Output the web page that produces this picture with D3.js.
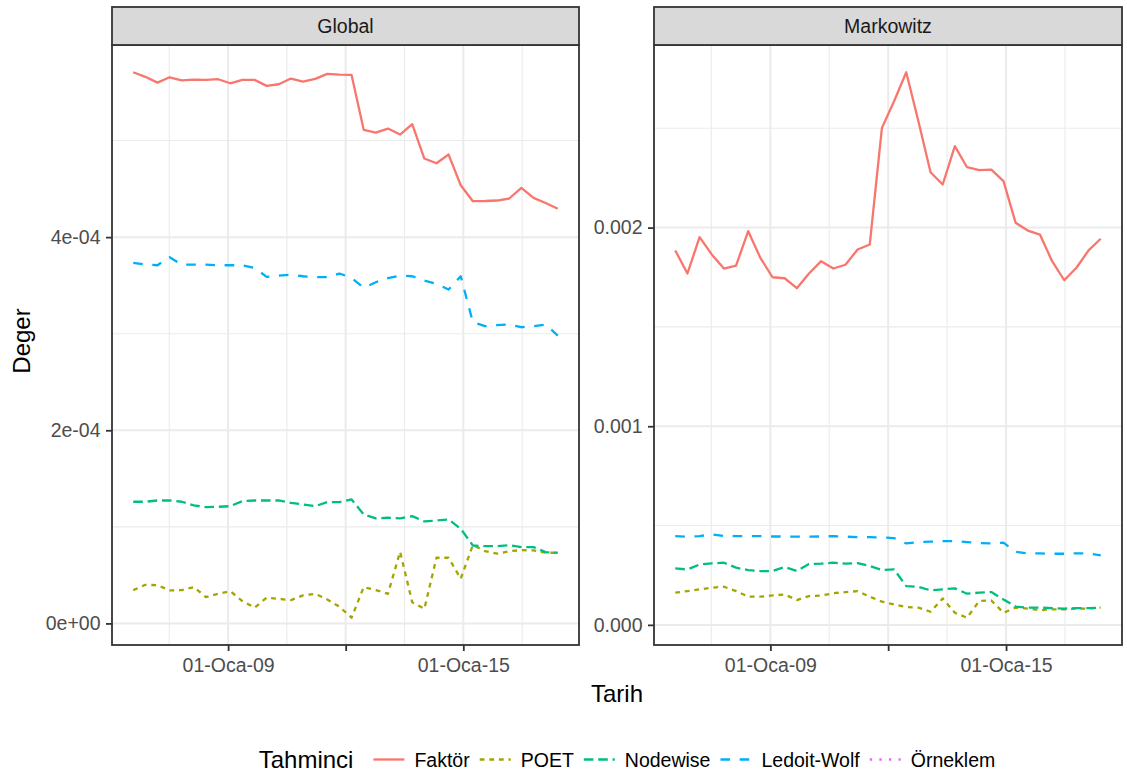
<!DOCTYPE html>
<html>
<head>
<meta charset="utf-8">
<script src="https://cdn.jsdelivr.net/npm/d3@7"></script>
<style>
  body { margin: 0; background: #fff; }
  text { font-family: "Liberation Sans", Arial, Helvetica, sans-serif; }
</style>
</head>
<body>
<svg id="chart" width="1127" height="781"></svg>
<script>
// data
const dates = ["2006-08-01","2006-11-22","2007-03-15","2007-07-06","2007-10-27","2008-02-17",
  "2008-06-09","2008-09-30","2009-01-21","2009-05-14","2009-09-04","2009-12-26",
  "2010-04-18","2010-08-09","2010-11-30","2011-03-23","2011-07-14","2011-11-04",
  "2012-02-25","2012-06-17","2012-10-08","2013-01-29","2013-05-22","2013-09-12",
  "2014-01-03","2014-04-26","2014-08-17","2014-12-08","2015-03-31","2015-07-22",
  "2015-11-12","2016-03-04","2016-06-25","2016-10-16","2017-02-06","2017-05-30"];

const estimators = ["Faktör", "POET", "Nodewise", "Ledoit-Wolf", "Örneklem"];
const facets = ["Global", "Markowitz"];

const globalFaktor = [0.0005707,0.000566,0.00056,0.0005655,0.0005624,0.0005631,0.0005628,0.0005635,0.0005593,
  0.0005628,0.0005628,0.0005566,0.0005583,0.0005642,0.0005611,0.0005639,0.000569,0.0005683,0.000568,
  0.0005111,0.0005083,0.0005124,0.0005062,0.0005169,0.0004814,0.0004765,0.0004855,0.0004537,
  0.0004372,0.0004374,0.0004379,0.00044,0.000451,0.0004407,0.0004353,0.0004293];
const globalPoet = [0.0000345,0.00004,0.0000396,0.0000342,0.0000345,0.0000376,0.0000272,0.0000307,0.0000334,
  0.0000231,0.0000163,0.0000266,0.0000255,0.0000241,0.000029,0.0000307,0.0000248,0.0000173,0.0000059,
  0.0000376,0.0000345,0.0000307,0.0000742,0.000022,0.0000152,0.000068,0.000068,0.0000463,
  0.0000811,0.0000748,0.0000722,0.0000748,0.0000759,0.0000756,0.0000732,0.0000732];
const globalNodewise = [0.000126,0.000126,0.0001273,0.0001273,0.000126,0.0001222,0.0001204,0.0001208,0.0001214,
  0.0001266,0.0001273,0.0001273,0.0001273,0.0001249,0.0001232,0.0001214,0.0001256,0.0001256,0.0001284,
  0.0001128,0.0001087,0.0001094,0.0001087,0.0001111,0.0001056,0.0001066,0.0001077,0.000098,
  0.0000807,0.00008,0.00008,0.0000811,0.000079,0.000079,0.0000738,0.0000732];
const globalLedoit = [0.0003734,0.0003716,0.0003709,0.0003792,0.0003716,0.0003716,0.0003716,0.0003709,0.0003709,
  0.0003709,0.0003682,0.0003589,0.0003602,0.000361,0.0003595,0.0003585,0.0003585,0.0003623,0.0003579,
  0.0003475,0.0003533,0.0003575,0.0003602,0.0003595,0.0003551,0.0003517,0.0003458,0.0003595,
  0.0003119,0.0003078,0.0003088,0.0003095,0.0003067,0.0003078,0.0003095,0.0002981];
const globalOrneklem = [];

const markowitzFaktor = [0.001885,0.001769,0.001952,0.001865,0.001794,0.001809,0.001982,0.001848,0.00175,
  0.001745,0.001695,0.001769,0.001831,0.001794,0.001813,0.00189,0.001915,0.002502,0.002636,
  0.002782,0.002535,0.002279,0.002217,0.00241,0.002304,0.002289,0.002292,0.002234,
  0.002024,0.001985,0.001965,0.001831,0.001735,0.001798,0.001885,0.001944];
const markowitzPoet = [0.000162,0.00017,0.000179,0.000187,0.000192,0.00017,0.000142,0.000142,0.000148,
  0.000153,0.000125,0.000145,0.000148,0.000159,0.000165,0.00017,0.000142,0.000117,0.000103,
  0.00009,0.000087,0.000066,0.000133,0.000061,0.000036,0.00012,0.000123,0.000061,
  0.000087,0.000082,0.000074,0.000078,0.000078,0.000082,0.000082,0.000087];
const markowitzNodewise = [0.000284,0.000279,0.000304,0.00031,0.000313,0.000288,0.000276,0.000271,0.000271,
  0.000291,0.000271,0.000306,0.000308,0.000313,0.000308,0.000311,0.000296,0.000276,0.000279,
  0.000195,0.000192,0.000174,0.000179,0.000184,0.000157,0.000162,0.000165,0.000128,
  0.000092,0.000087,0.000087,0.000084,0.000082,0.000084,0.000084,0.000087];
const markowitzLedoit = [0.000447,0.000444,0.000447,0.000455,0.000447,0.000447,0.000447,0.000447,0.000445,
  0.000445,0.000444,0.000444,0.000445,0.000447,0.000444,0.000442,0.000442,0.00044,0.000437,
  0.00041,0.000417,0.000419,0.000422,0.000422,0.000417,0.000412,0.00041,0.000414,
  0.000368,0.00036,0.00036,0.000358,0.000358,0.00036,0.00036,0.00035];
const markowitzOrneklem = [];

const xTickDates = ["2009-01-01", "2012-01-01", "2015-01-01"];
const xTickLabels = ["01-Oca-09", "", "01-Oca-15"];
const xMinorDates = ["2007-07-02", "2010-07-02", "2013-07-02", "2016-07-02"];

const globalTicks = [0, 0.0002, 0.0004];
const globalTickLabels = ["0e+00", "2e-04", "4e-04"];
const globalMinor = [0.0001, 0.0003, 0.0005];
const markowitzTicks = [0, 0.001, 0.002];
const markowitzTickLabels = ["0.000", "0.001", "0.002"];
const markowitzMinor = [0.0005, 0.0015, 0.0025];

// styling
const colors = ["#F8766D", "#A3A500", "#00BF7D", "#00B0F6", "#E76BF3"];
const dashes = ["none", "4.8,4.8", "9.6,4.8", "9.6,9.6", "2.4,7.2"];
const lineW = 2.3;

const stripTop = 7, panelTop = 45, panelBottom = 645;
const tickFont = 19.5, titleFont = 24;

const parseDate = d3.utcParse("%Y-%m-%d");
const allDates = dates.map(parseDate);

const panels = [
  { name: facets[0], left: 112, right: 579,
    series: [globalFaktor, globalPoet, globalNodewise, globalLedoit, globalOrneklem],
    ticks: globalTicks, tickLabels: globalTickLabels, minor: globalMinor },
  { name: facets[1], left: 654, right: 1122,
    series: [markowitzFaktor, markowitzPoet, markowitzNodewise, markowitzLedoit, markowitzOrneklem],
    ticks: markowitzTicks, tickLabels: markowitzTickLabels, minor: markowitzMinor }
];

const svg = d3.select("#chart");
svg.append("rect").attr("width", 1127).attr("height", 781).attr("fill", "#fff");

function expand(ext) {
  const pad = (ext[1] - ext[0]) * 0.05;
  return [ext[0] - pad, ext[1] + pad];
}

const xDomain = expand(d3.extent(allDates).map(d => +d)).map(d => new Date(d));

panels.forEach(p => {
  const g = svg.append("g");

  const x = d3.scaleUtc().domain(xDomain).range([p.left, p.right]);
  const allVals = p.series.flat();
  const y = d3.scaleLinear().domain(expand(d3.extent(allVals))).range([panelBottom, panelTop]);

  // grid
  const grid = g.append("g");
  grid.selectAll("line.xminor").data(xMinorDates.map(parseDate)).join("line")
    .attr("x1", d => x(d)).attr("x2", d => x(d))
    .attr("y1", panelTop).attr("y2", panelBottom)
    .attr("stroke", "#EBEBEB").attr("stroke-width", 1.1);
  grid.selectAll("line.yminor").data(p.minor).join("line")
    .attr("x1", p.left).attr("x2", p.right)
    .attr("y1", d => y(d)).attr("y2", d => y(d))
    .attr("stroke", "#EBEBEB").attr("stroke-width", 1.1);
  grid.selectAll("line.xmajor").data(xTickDates.map(parseDate)).join("line")
    .attr("x1", d => x(d)).attr("x2", d => x(d))
    .attr("y1", panelTop).attr("y2", panelBottom)
    .attr("stroke", "#EBEBEB").attr("stroke-width", 2);
  grid.selectAll("line.ymajor").data(p.ticks).join("line")
    .attr("x1", p.left).attr("x2", p.right)
    .attr("y1", d => y(d)).attr("y2", d => y(d))
    .attr("stroke", "#EBEBEB").attr("stroke-width", 2);

  // lines
  const line = d3.line()
    .x(d => x(d[0]))
    .y(d => y(d[1]));

  p.series.forEach((vals, i) => {
    if (!vals.length) return;
    g.append("path")
      .datum(vals.map((v, j) => [allDates[j], v]))
      .attr("d", line)
      .attr("fill", "none")
      .attr("stroke", colors[i])
      .attr("stroke-width", lineW)
      .attr("stroke-dasharray", dashes[i])
      .attr("stroke-linejoin", "round");
  });

  // border
  g.append("rect")
    .attr("x", p.left).attr("y", panelTop)
    .attr("width", p.right - p.left).attr("height", panelBottom - panelTop)
    .attr("fill", "none").attr("stroke", "#333333").attr("stroke-width", 1.8);

  // strip
  g.append("rect")
    .attr("x", p.left).attr("y", stripTop)
    .attr("width", p.right - p.left).attr("height", panelTop - stripTop)
    .attr("fill", "#D9D9D9").attr("stroke", "#333333").attr("stroke-width", 1.8);
  g.append("text")
    .attr("x", (p.left + p.right) / 2).attr("y", (stripTop + panelTop) / 2)
    .attr("dy", "0.36em")
    .attr("text-anchor", "middle")
    .attr("font-size", tickFont).attr("fill", "#1A1A1A")
    .text(p.name);

  // axes
  const xAxis = d3.axisBottom(x)
    .tickValues(xTickDates.map(parseDate))
    .tickFormat((d, i) => xTickLabels[i])
    .tickSize(6).tickSizeOuter(0).tickPadding(7);
  const xg = g.append("g").attr("transform", `translate(0,${panelBottom})`).call(xAxis);

  const yAxis = d3.axisLeft(y)
    .tickValues(p.ticks)
    .tickFormat((d, i) => p.tickLabels[i])
    .tickSize(6).tickSizeOuter(0).tickPadding(5.5);
  const yg = g.append("g").attr("transform", `translate(${p.left},0)`).call(yAxis);

  [xg, yg].forEach(a => {
    a.select(".domain").remove();
    a.selectAll(".tick line").attr("stroke", "#333333").attr("stroke-width", 1.8);
    a.selectAll(".tick text").attr("fill", "#4D4D4D").attr("font-size", tickFont)
      .attr("font-family", "Liberation Sans, Arial, sans-serif");
  });
});

// axis titles
svg.append("text")
  .attr("x", (panels[0].left + panels[1].right) / 2).attr("y", 702)
  .attr("text-anchor", "middle").attr("font-size", titleFont).attr("fill", "#000")
  .text("Tarih");
svg.append("text")
  .attr("transform", `translate(29.5,${(panelTop + panelBottom) / 2 - 4}) rotate(-90)`)
  .attr("text-anchor", "middle").attr("font-size", titleFont).attr("fill", "#000")
  .text("Deger");

// legend, laid out left to right then centred
const legend = svg.append("g");
const legendTitle = legend.append("text")
  .attr("x", 0).attr("y", 768)
  .attr("font-size", titleFont).attr("fill", "#000")
  .text("Tahminci");
let lx = legendTitle.node().getComputedTextLength() + 20;
estimators.forEach((name, i) => {
  legend.append("line")
    .attr("x1", lx).attr("x2", lx + 31)
    .attr("y1", 759.5).attr("y2", 759.5)
    .attr("stroke", colors[i]).attr("stroke-width", lineW)
    .attr("stroke-dasharray", dashes[i]);
  const t = legend.append("text")
    .attr("x", lx + 41).attr("y", 767)
    .attr("font-size", tickFont).attr("fill", "#000")
    .text(name);
  lx += 41 + t.node().getComputedTextLength() + (i < estimators.length - 1 ? 10 : 0);
});
legend.attr("transform", `translate(${627 - lx / 2},0)`);
</script>
</body>
</html>
